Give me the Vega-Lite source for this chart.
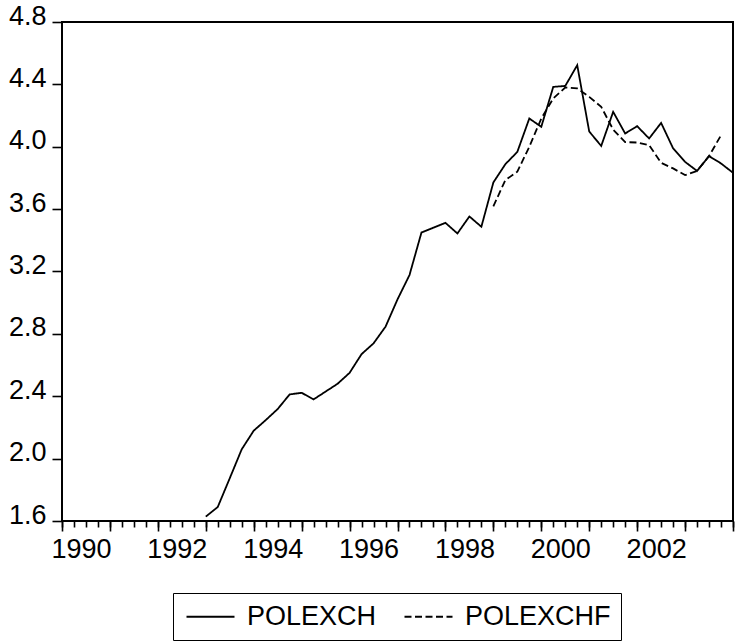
{
  "$schema": "https://vega.github.io/schema/vega-lite/v6.json",
  "width": 671,
  "height": 499,
  "autosize": "none",
  "padding": {"left": 62, "top": 22, "right": 2, "bottom": 121},
  "background": "white",
  "config": {
    "view": {"stroke": "black", "strokeWidth": 2},
    "font": "Liberation Sans",
    "axis": {"labelFont": "Liberation Sans", "labelColor": "black", "tickColor": "black", "grid": false, "domain": false}
  },
  "data": {
    "values": [
      {"t": 1993.0, "v": 1.628, "s": "POLEXCH"},
      {"t": 1993.25, "v": 1.69, "s": "POLEXCH"},
      {"t": 1993.5, "v": 1.874, "s": "POLEXCH"},
      {"t": 1993.75, "v": 2.06, "s": "POLEXCH"},
      {"t": 1994.0, "v": 2.179, "s": "POLEXCH"},
      {"t": 1994.25, "v": 2.247, "s": "POLEXCH"},
      {"t": 1994.5, "v": 2.318, "s": "POLEXCH"},
      {"t": 1994.75, "v": 2.412, "s": "POLEXCH"},
      {"t": 1995.0, "v": 2.422, "s": "POLEXCH"},
      {"t": 1995.25, "v": 2.38, "s": "POLEXCH"},
      {"t": 1995.5, "v": 2.43, "s": "POLEXCH"},
      {"t": 1995.75, "v": 2.48, "s": "POLEXCH"},
      {"t": 1996.0, "v": 2.55, "s": "POLEXCH"},
      {"t": 1996.25, "v": 2.67, "s": "POLEXCH"},
      {"t": 1996.5, "v": 2.739, "s": "POLEXCH"},
      {"t": 1996.75, "v": 2.846, "s": "POLEXCH"},
      {"t": 1997.0, "v": 3.021, "s": "POLEXCH"},
      {"t": 1997.25, "v": 3.177, "s": "POLEXCH"},
      {"t": 1997.5, "v": 3.45, "s": "POLEXCH"},
      {"t": 1997.75, "v": 3.481, "s": "POLEXCH"},
      {"t": 1998.0, "v": 3.512, "s": "POLEXCH"},
      {"t": 1998.25, "v": 3.444, "s": "POLEXCH"},
      {"t": 1998.5, "v": 3.553, "s": "POLEXCH"},
      {"t": 1998.75, "v": 3.487, "s": "POLEXCH"},
      {"t": 1999.0, "v": 3.771, "s": "POLEXCH"},
      {"t": 1999.25, "v": 3.888, "s": "POLEXCH"},
      {"t": 1999.5, "v": 3.967, "s": "POLEXCH"},
      {"t": 1999.75, "v": 4.181, "s": "POLEXCH"},
      {"t": 2000.0, "v": 4.128, "s": "POLEXCH"},
      {"t": 2000.25, "v": 4.384, "s": "POLEXCH"},
      {"t": 2000.5, "v": 4.39, "s": "POLEXCH"},
      {"t": 2000.75, "v": 4.523, "s": "POLEXCH"},
      {"t": 2001.0, "v": 4.098, "s": "POLEXCH"},
      {"t": 2001.25, "v": 4.005, "s": "POLEXCH"},
      {"t": 2001.5, "v": 4.224, "s": "POLEXCH"},
      {"t": 2001.75, "v": 4.085, "s": "POLEXCH"},
      {"t": 2002.0, "v": 4.132, "s": "POLEXCH"},
      {"t": 2002.25, "v": 4.053, "s": "POLEXCH"},
      {"t": 2002.5, "v": 4.153, "s": "POLEXCH"},
      {"t": 2002.75, "v": 3.99, "s": "POLEXCH"},
      {"t": 2003.0, "v": 3.903, "s": "POLEXCH"},
      {"t": 2003.25, "v": 3.845, "s": "POLEXCH"},
      {"t": 2003.5, "v": 3.94, "s": "POLEXCH"},
      {"t": 2003.75, "v": 3.893, "s": "POLEXCH"},
      {"t": 2004.0, "v": 3.833, "s": "POLEXCH"},
      {"t": 1999.0, "v": 3.618, "s": "POLEXCHF"},
      {"t": 1999.25, "v": 3.786, "s": "POLEXCHF"},
      {"t": 1999.5, "v": 3.84, "s": "POLEXCHF"},
      {"t": 1999.75, "v": 4.0, "s": "POLEXCHF"},
      {"t": 2000.0, "v": 4.181, "s": "POLEXCHF"},
      {"t": 2000.25, "v": 4.31, "s": "POLEXCHF"},
      {"t": 2000.5, "v": 4.38, "s": "POLEXCHF"},
      {"t": 2000.75, "v": 4.374, "s": "POLEXCHF"},
      {"t": 2001.0, "v": 4.32, "s": "POLEXCHF"},
      {"t": 2001.25, "v": 4.256, "s": "POLEXCHF"},
      {"t": 2001.5, "v": 4.11, "s": "POLEXCHF"},
      {"t": 2001.75, "v": 4.03, "s": "POLEXCHF"},
      {"t": 2002.0, "v": 4.027, "s": "POLEXCHF"},
      {"t": 2002.25, "v": 4.01, "s": "POLEXCHF"},
      {"t": 2002.5, "v": 3.897, "s": "POLEXCHF"},
      {"t": 2002.75, "v": 3.861, "s": "POLEXCHF"},
      {"t": 2003.0, "v": 3.818, "s": "POLEXCHF"},
      {"t": 2003.25, "v": 3.845, "s": "POLEXCHF"},
      {"t": 2003.5, "v": 3.94, "s": "POLEXCHF"},
      {"t": 2003.75, "v": 4.074, "s": "POLEXCHF"}
    ]
  },
  "layer": [
    {
      "mark": {"type": "line", "color": "black", "strokeWidth": 1.8},
      "encoding": {
        "x": {
          "field": "t", "type": "quantitative",
          "scale": {"domain": [1990, 2004], "nice": false, "zero": false},
          "axis": {
            "orient": "bottom", "title": null,
            "values": [1990, 1991, 1992, 1993, 1994, 1995, 1996, 1997, 1998, 1999, 2000, 2001, 2002, 2003, 2004],
            "labelExpr": "datum.value % 2 == 0 && datum.value < 2004 ? datum.value : ''",
            "tickSize": 10, "tickWidth": 1.6,
            "labelFontSize": 27, "labelAlign": "center", "labelBaseline": "alphabetic",
            "labelPadding": 26, "labelFlush": false, "labelOverlap": false, "labelBound": false,
            "labelOffset": 19
          }
        },
        "y": {
          "field": "v", "type": "quantitative",
          "scale": {"domain": [1.6, 4.8], "nice": false, "zero": false},
          "axis": {
            "title": null,
            "values": [1.6, 2.0, 2.4, 2.8, 3.2, 3.6, 4.0, 4.4, 4.8],
            "format": ".1f",
            "tickSize": 10, "tickWidth": 1.6,
            "labelFontSize": 27, "labelPadding": 6,
            "labelBaseline": "alphabetic", "labelOffset": 2,
            "labelFlush": false, "labelOverlap": false, "labelBound": false
          }
        },
        "strokeDash": {
          "field": "s", "type": "nominal",
          "scale": {"domain": ["POLEXCH", "POLEXCHF"], "range": [[1, 0], [7, 3.5]]},
          "legend": {
            "title": null,
            "orient": "none", "legendX": 111, "legendY": 571,
            "direction": "horizontal",
            "strokeColor": "black", "padding": 10,
            "symbolType": "M-2,0H2", "symbolSize": 576, "symbolStrokeWidth": 1.8,
            "symbolStrokeColor": "black", "symbolFillColor": "transparent",
            "symbolOffset": 14,
            "labelFontSize": 27, "labelFont": "Liberation Sans", "labelColor": "black",
            "labelOffset": 23, "columnPadding": 23
          }
        }
      }
    },
    {
      "mark": {"type": "rule", "opacity": 0},
      "encoding": {
        "x": {
          "field": "t", "type": "quantitative",
          "axis": {
            "orient": "bottom", "title": null, "labels": false,
            "values": [1990, 1990.25, 1990.5, 1990.75, 1991, 1991.25, 1991.5, 1991.75, 1992, 1992.25, 1992.5, 1992.75, 1993, 1993.25, 1993.5, 1993.75, 1994, 1994.25, 1994.5, 1994.75, 1995, 1995.25, 1995.5, 1995.75, 1996, 1996.25, 1996.5, 1996.75, 1997, 1997.25, 1997.5, 1997.75, 1998, 1998.25, 1998.5, 1998.75, 1999, 1999.25, 1999.5, 1999.75, 2000, 2000.25, 2000.5, 2000.75, 2001, 2001.25, 2001.5, 2001.75, 2002, 2002.25, 2002.5, 2002.75, 2003, 2003.25, 2003.5, 2003.75, 2004],
            "tickSize": 6, "tickWidth": 1.6
          }
        }
      }
    }
  ],
  "resolve": {"axis": {"x": "independent"}}
}
